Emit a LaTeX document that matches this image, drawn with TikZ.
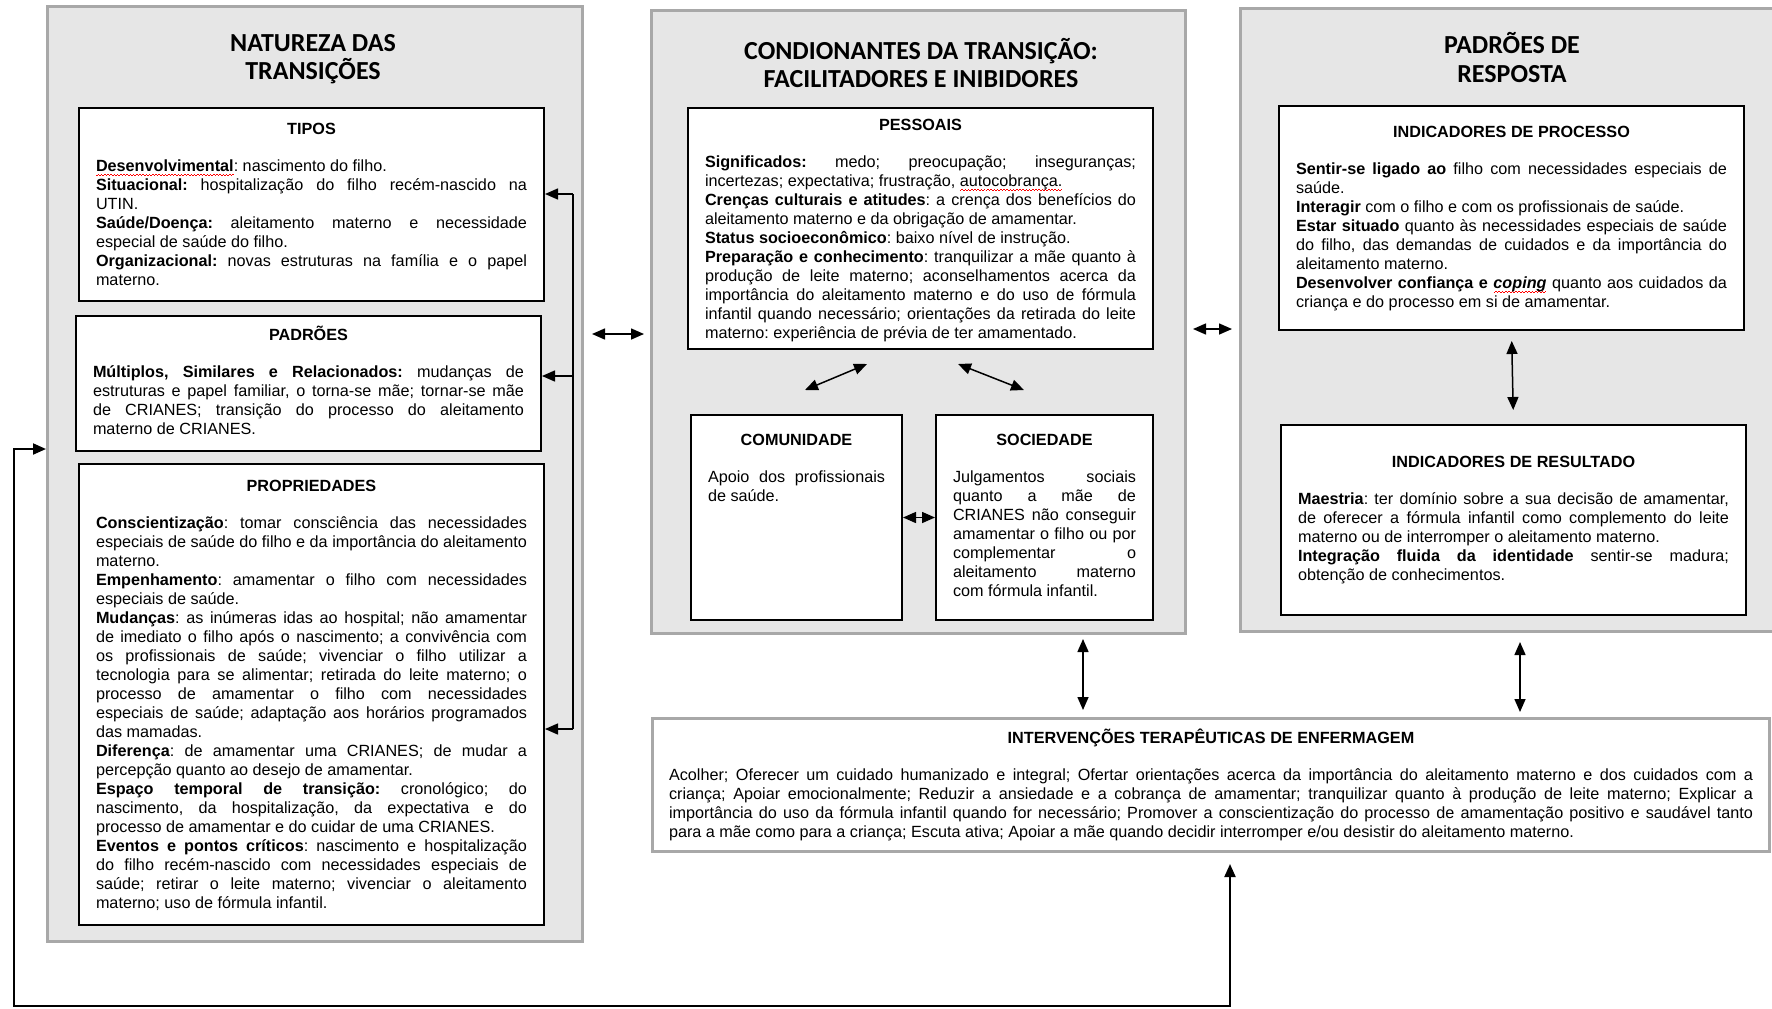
\documentclass[tikz,border=0pt]{standalone}
\usepackage{fontspec}
\setmainfont{Liberation Sans}
\newfontfamily\carlito{Carlito}
\usepackage{xcolor}
\usepackage{tikz}
\usetikzlibrary{arrows.meta}

\definecolor{fundopainel}{HTML}{E6E6E6}
\definecolor{bordapainel}{HTML}{A8A8A8}

\newcommand{\corpo}{\fontsize{8.1}{9.5}\selectfont\frenchspacing\tolerance=9999\hbadness=10000}
\newcommand{\grande}{\carlito\bfseries\fontsize{13}{14}\selectfont}
\newcommand{\cabeca}[1]{{\centering\textbf{#1}\par}\vspace{9pt}}
\newcommand{\erro}[1]{\setbox0=\hbox{#1}\rlap{\raisebox{-2.2pt}{\textcolor{red}{\hbox to \wd0{\xleaders\hbox to 1.6pt{\rule[-0.35pt]{0.8pt}{0.45pt}\rule[0.1pt]{0.8pt}{0.45pt}}\hfill}}}}\box0}

\begin{document}
\begin{tikzpicture}[x=0.5pt,y=-0.5pt,line width=0.75pt,
		>={Triangle[length=6.5pt,width=5.5pt]},
		painel/.style={draw=bordapainel,line width=1.5pt,fill=fundopainel,
			anchor=north west,inner sep=0pt},
		caixa/.style={draw,line width=1pt,fill=white,anchor=north west,
			inner xsep=8.5pt,inner ysep=0pt,text width=215.5pt,
			align=justify,font=\corpo},
		titulo/.style={font=\grande,align=center}]
	\useasboundingbox (0,0) rectangle (1772,1008);
	%
	\node[painel,minimum width=267.5pt,minimum height=467.5pt] (NT) at (46,5) {};
	\node[painel,minimum width=267pt,minimum height=311.5pt] (CT) at (650,9) {};
	\node[painel,minimum width=273pt,minimum height=311.5pt] (PR) at (1239,7) {};
	\node[titulo] (tNT) at (313,59) {NATUREZA DAS\\TRANSIÇÕES};
	\node[titulo] (tCT) at (921,63) {CONDIONANTES DA TRANSIÇÃO:\\FACILITADORES E INIBIDORES};
	\node[titulo] (tPR) at (1512,57.5) {PADRÕES DE\\RESPOSTA};
	%
	\node[caixa,text height=13pt,text depth=83.5pt] (TI) at (78,107) {\cabeca{TIPOS}
		\textbf{\erro{Desenvolvimental}}: nascimento do filho.\par
		\textbf{Situacional:} hospitalização do filho recém-nascido na\linebreak UTIN.\par
		\textbf{Saúde/Doença:} aleitamento materno e necessidade\linebreak especial de saúde do filho.\par
		\textbf{Organizacional:} novas estruturas na família e o papel\linebreak materno.};
	\node[caixa,text height=12pt,text depth=55.5pt] (PA) at (75,315) {\cabeca{PADRÕES}
		\textbf{Múltiplos, Similares e Relacionados:} mudanças de\linebreak estruturas e papel familiar, o torna-se mãe; tornar-se mãe\linebreak de CRIANES; transição do processo do aleitamento\linebreak materno de CRIANES.};
	\node[caixa,text height=13.5pt,text depth=217pt] (PP) at (78,463) {\cabeca{PROPRIEDADES}
		\textbf{Conscientização}: tomar consciência das necessidades\linebreak especiais de saúde do filho e da importância do aleitamento\linebreak materno.\par
		\textbf{Empenhamento}: amamentar o filho com necessidades\linebreak especiais de saúde.\par
		\textbf{Mudanças}: as inúmeras idas ao hospital; não amamentar\linebreak de imediato o filho após o nascimento; a convivência com\linebreak os profissionais de saúde; vivenciar o filho utilizar a\linebreak tecnologia para se alimentar; retirada do leite materno; o\linebreak processo de amamentar o filho com necessidades\linebreak especiais de saúde; adaptação aos horários programados\linebreak das mamadas.\par
		\textbf{Diferença}: de amamentar uma CRIANES; de mudar a\linebreak percepção quanto ao desejo de amamentar.\par
		\textbf{Espaço temporal de transição:} cronológico; do\linebreak nascimento, da hospitalização, da expectativa e do\linebreak processo de amamentar e do cuidar de uma CRIANES.\par
		\textbf{Eventos e pontos críticos}: nascimento e hospitalização\linebreak do filho recém-nascido com necessidades especiais de\linebreak saúde; retirar o leite materno; vivenciar o aleitamento\linebreak materno; uso de fórmula infantil.};
	%
	\node[caixa,text height=11pt,text depth=109.5pt] (PE) at (687,107) {\cabeca{PESSOAIS}
		\textbf{Significados:} medo; preocupação; inseguranças;\linebreak incertezas; expectativa; frustração, \erro{autocobrança.}\par
		\textbf{Crenças culturais e atitudes}: a crença dos benefícios do\linebreak aleitamento materno e da obrigação de amamentar.\par
		\textbf{Status socioeconômico}: baixo nível de instrução.\par
		\textbf{Preparação e conhecimento}: tranquilizar a mãe quanto à\linebreak produção de leite materno; aconselhamentos acerca da\linebreak importância do aleitamento materno e do uso de fórmula\linebreak infantil quando necessário; orientações da retirada do leite\linebreak materno: experiência de prévia de ter amamentado.};
	\node[caixa,text width=88.5pt,text height=15pt,text depth=87.5pt] (CO) at (690,414) {\cabeca{COMUNIDADE}
		Apoio dos profissionais\linebreak de saúde.};
	\node[caixa,text width=91.5pt,text height=15pt,text depth=87.5pt] (SO) at (935,414) {\cabeca{SOCIEDADE}
		Julgamentos sociais\linebreak quanto a mãe de\linebreak CRIANES não conseguir\linebreak amamentar o filho ou por\linebreak complementar o\linebreak aleitamento materno\linebreak com fórmula infantil.};
	%
	\node[caixa,text height=15.5pt,text depth=96.5pt] (IP) at (1278,105) {\cabeca{INDICADORES DE PROCESSO}
		\textbf{Sentir-se ligado ao} filho com necessidades especiais de\linebreak saúde.\par
		\textbf{Interagir} com o filho e com os profissionais de saúde.\par
		\textbf{Estar situado} quanto às necessidades especiais de saúde\linebreak do filho, das demandas de cuidados e da importância do\linebreak aleitamento materno.\par
		\textbf{Desenvolver confiança e \textit{\erro{coping}}} quanto aos cuidados da\linebreak criança e do processo em si de amamentar.};
	\node[caixa,text height=21pt,text depth=74pt] (IR) at (1280,424) {\cabeca{INDICADORES DE RESULTADO}
		\textbf{Maestria}: ter domínio sobre a sua decisão de amamentar,\linebreak de oferecer a fórmula infantil como complemento do leite\linebreak materno ou de interromper o aleitamento materno.\par
		\textbf{Integração fluida da identidade} sentir-se madura;\linebreak obtenção de conhecimentos.};
	%
	\node[caixa,draw=bordapainel,line width=1.5pt,text width=542pt,inner xsep=8.25pt,
		text height=12.5pt,text depth=54pt] (IT) at (651,717) {\cabeca{INTERVENÇÕES TERAPÊUTICAS DE ENFERMAGEM}
		Acolher; Oferecer um cuidado humanizado e integral; Ofertar orientações acerca da importância do aleitamento materno e dos cuidados com a\linebreak criança; Apoiar emocionalmente; Reduzir a ansiedade e a cobrança de amamentar; tranquilizar quanto à produção de leite materno; Explicar a\linebreak importância do uso da fórmula infantil quando for necessário; Promover a conscientização do processo de amamentação positivo e saudável tanto\linebreak para a mãe como para a criança; Escuta ativa; Apoiar a mãe quando decidir interromper e/ou desistir do aleitamento materno.};
	%
	\coordinate (b1) at (573,194);
	\coordinate (b2) at (573,376);
	\coordinate (b3) at (573,729);
	\coordinate (h1) at (0,334);
	\coordinate (h2) at (0,329);
	\coordinate (d1) at (867,364);
	\coordinate (d2) at (805,390);
	\coordinate (d3) at (958,364);
	\coordinate (d4) at (1024,390);
	\coordinate (v1) at (1083,0);
	\coordinate (v2) at (1520,0);
	\coordinate (fb) at (1230,1006);
	\coordinate (fl) at (14,449);
	%
	\draw (b1) -- (b3);
	\path[->]
		(b1) edge (b1 -| TI.east)
		(b2) edge (b2 -| PA.east)
		(b3) edge (b3 -| PP.east);
	\path[<->]
		(NT.east |- h1) edge[shorten <=4pt,shorten >=3pt] (CT.west |- h1)
		(CT.east |- h2) edge[shorten <=3pt,shorten >=3.5pt] (PR.west |- h2)
		(d1) edge (d2)
		(d3) edge (d4)
		(CO) edge (SO)
		(IP.south) edge[shorten <=5pt,shorten >=7pt] (IR.north)
		(CT.south -| v1) edge[shorten <=2pt,shorten >=3.5pt] (IT.north -| v1)
		(PR.south -| v2) edge[shorten <=4.5pt,shorten >=2.5pt] (IT.north -| v2);
	\draw[<->,line width=1pt,shorten <=5.5pt] (IT.south -| fb) -- (fb) -| (fl) -- (fl -| NT.west);
\end{tikzpicture}
\end{document}
